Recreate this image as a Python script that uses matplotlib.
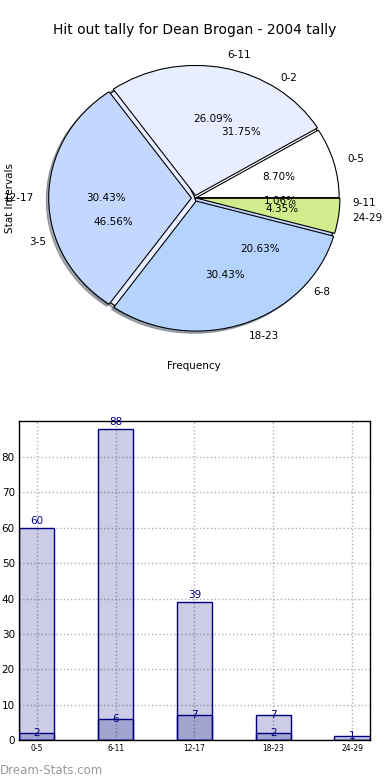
import matplotlib
matplotlib.use("Agg")
import matplotlib.pyplot as plt
import numpy as np

# pie data (two pies drawn on top of each other)
tally_labels = ["0-5", "6-11", "12-17", "18-23", "24-29"]
tally_counts = [2, 6, 7, 7, 1]
interval_labels = ["0-2", "3-5", "6-8", "9-11"]
interval_counts = [60, 88, 39, 2]

# bar data
bar_labels = ["0-5", "6-11", "12-17", "18-23", "24-29"]
bar_light = [60, 88, 39, 7, 1]
bar_dark = [2, 6, 7, 2, 0]

pie_colors = ["#ffffff", "#e8eeff", "#c4d8ff", "#b4d4ff", "#d0ec8c"]
navy = "#000080"

plt.rcParams["font.family"] = ["DejaVu Sans"]
fig = plt.figure(figsize=(3.9, 7.8), dpi=100)

# --- pie chart ---
ax1 = fig.add_axes([0.0882, 0.5586, 0.8236, 0.3751])
shadow = dict(ox=-0.012, oy=-0.012, shade=0.6)
ax1.pie(interval_counts, labels=interval_labels,
        colors=pie_colors[:3] + ["#444444"],
        autopct="%1.2f%%", shadow=shadow,
        wedgeprops=dict(edgecolor="black", linewidth=0.8),
        textprops=dict(fontsize=7.5))
ax1.pie(tally_counts, labels=tally_labels, colors=pie_colors,
        explode=[0.01, 0.02, 0.025, 0.025, 0.015],
        autopct="%1.2f%%", shadow=shadow,
        wedgeprops=dict(edgecolor="black", linewidth=0.8),
        textprops=dict(fontsize=7.5))
ax1.set_aspect("auto")
ax1.set_xlim(-1.125, 1.125)
ax1.set_ylim(-1.125, 1.125)

fig.text(0.5, 0.961, "Hit out tally for Dean Brogan - 2004 tally",
         ha="center", va="center", fontsize=10)
fig.text(0.497, 0.531, "Frequency", ha="center", va="center", fontsize=7.5)
fig.text(0.026, 0.746, "Stat Intervals", ha="center", va="center",
         rotation=90, fontsize=7.5)

# --- bar chart ---
ax2 = fig.add_axes([0.0487, 0.0513, 0.9, 0.409])
x = np.arange(len(bar_labels))
w = 0.45
ax2.bar(x, bar_light, width=w, color=(0, 0, 0.5, 0.2), edgecolor=navy,
        linewidth=1, zorder=2)
ax2.bar(x, bar_dark, width=w, color=(0, 0, 0.5, 0.2), edgecolor=navy,
        linewidth=1, zorder=3)

for xi, v in zip(x, bar_light):
    if v >= 10:
        ax2.text(xi, v + 0.6, str(v), ha="center", va="bottom",
                 fontsize=7.5, color=navy, zorder=5)
    else:
        ax2.text(xi, v, str(v), ha="center", va="center",
                 fontsize=7.5, color=navy, zorder=5)
for xi, v in zip(x, bar_dark):
    if v > 0:
        ax2.text(xi, v, str(v), ha="center", va="center",
                 fontsize=7.5, color=navy, zorder=5)

ax2.set_xlim(-w / 2, len(bar_labels) - 1 + w / 2)
ax2.set_ylim(0, 90.2)
ax2.set_xticks(x)
ax2.set_xticklabels(bar_labels, fontsize=5.5)
ax2.set_yticks(np.arange(0, 81, 10))
ax2.tick_params(axis="y", labelsize=7.5, length=0, pad=3)
ax2.tick_params(axis="x", length=0, pad=3)
ax2.set_axisbelow(True)
ax2.grid(True, linestyle=":", color="#b0b0b0", linewidth=1)
for s in ax2.spines.values():
    s.set_linewidth(1)

fig.text(0.0, 0.012, "Dream-Stats.com", ha="left", va="center",
         fontsize=8.5, color="#999999", fontweight="medium")

fig.savefig("out.png", dpi=100, facecolor="white")
